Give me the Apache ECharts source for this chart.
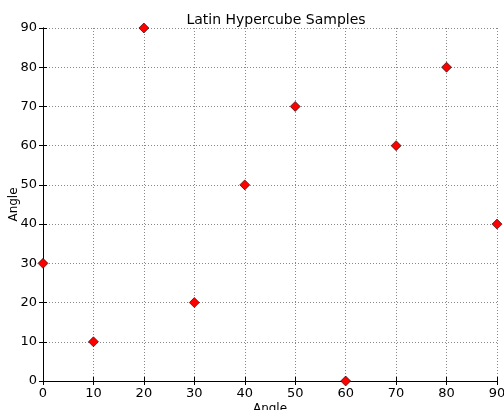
<!DOCTYPE html>
<html><head><meta charset="utf-8">
<script src="https://cdn.jsdelivr.net/npm/echarts@6/dist/echarts.min.js"></script>
<style>html,body{margin:0;padding:0;background:#fff}#c{width:504px;height:410px}</style>
</head><body><div id="c"></div>
<script>
const xValues = [0, 10, 20, 30, 40, 50, 60, 70, 80, 90];
const yValues = [30, 10, 90, 20, 50, 70, 0, 60, 80, 40];
const titleText = 'Latin Hypercube Samples';
const xName = 'Angle';
const yName = 'Angle';

const chart = echarts.init(document.getElementById('c'));
const font = 'DejaVu Sans';
const axisCommon = {
  type: 'value', min: 0, max: 90, interval: 10,
  axisLine: { show: true, lineStyle: { color: '#000', width: 1 } },
  axisTick: { show: true, inside: true, length: 4, lineStyle: { color: '#000' } },
  splitLine: { show: false }
};
chart.setOption({
  animation: false,
  title: { text: titleText, left: 271, top: 8, textAlign: 'center',
    textStyle: { fontFamily: font, fontSize: 14, fontWeight: 'normal', color: '#000' } },
  grid: { left: 43, right: 7, top: 28, bottom: 29, containLabel: false, outerBoundsMode: 'none' },
  xAxis: [
    Object.assign({}, axisCommon, {
      position: 'bottom', name: xName, nameLocation: 'middle', nameGap: 22, nameMoveOverlap: false,
      nameTextStyle: { fontFamily: font, fontSize: 12, color: '#000' },
      axisLabel: { fontFamily: font, fontSize: 13, color: '#000', margin: 6 },
      splitLine: { show: true, lineStyle: { color: '#888', type: [1, 2], width: 1 } }
    }),
    Object.assign({}, axisCommon, { position: 'top', axisLabel: { show: false } })
  ],
  yAxis: [
    Object.assign({}, axisCommon, {
      position: 'left', name: yName, nameLocation: 'middle', nameGap: 23, nameMoveOverlap: false,
      nameTextStyle: { fontFamily: font, fontSize: 12, color: '#000' },
      axisLabel: { fontFamily: font, fontSize: 13, color: '#000', margin: 6 },
      splitLine: { show: true, lineStyle: { color: '#888', type: [1, 2], width: 1 } }
    }),
    Object.assign({}, axisCommon, { position: 'right', axisLabel: { show: false } })
  ],
  series: [{
    type: 'scatter', xAxisIndex: 0, yAxisIndex: 0,
    symbol: 'diamond', symbolSize: 10, clip: true,
    itemStyle: { color: '#ff0000', opacity: 1, borderColor: '#000', borderWidth: 0.6 },
    data: xValues.map((x, i) => [x, yValues[i]])
  }]
});
</script></body></html>
